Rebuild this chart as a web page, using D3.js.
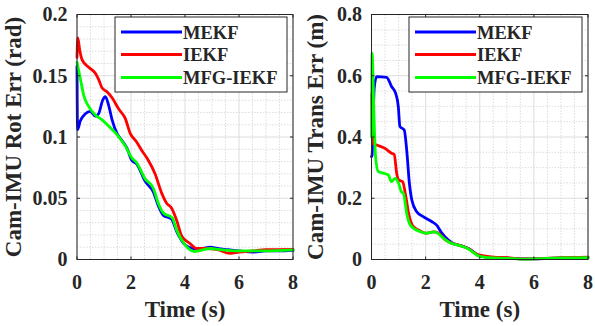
<!DOCTYPE html>
<html><head><meta charset="utf-8">
<script src="https://cdn.jsdelivr.net/npm/d3@7"></script>
<style>
html,body{margin:0;padding:0;background:#fff;}
svg{display:block;}
text{font-family:"Liberation Serif","Times New Roman",serif;font-weight:bold;fill:#262626;}
</style></head>
<body>
<script>
// ---------- data ----------
const seriesNames = ["MEKF", "IEKF", "MFG-IEKF"];
const seriesColors = ["#0000ff", "#ff0000", "#00ff00"];
const xTicks = [0, 2, 4, 6, 8];
const rotTicks = [0, 0.05, 0.1, 0.15, 0.2];
const rotTickLabels = ["0", "0.05", "0.1", "0.15", "0.2"];
const transTicks = [0, 0.2, 0.4, 0.6, 0.8];
const transTickLabels = ["0", "0.2", "0.4", "0.6", "0.8"];

// Rotation error (rad)
const mekfRotT = [0,0.02,0.12,0.31,0.49,0.68,0.8,0.95,1.05,1.17,1.3,1.48,1.67,1.85,2.03,2.21,2.52,2.83,3.01,3.2,3.5,3.69,4.0,4.3,4.6,4.93,5.2,5.6,6.0,6.5,7.0,7.5,8.0];
const mekfRot  = [0.158,0.106,0.113,0.119,0.121,0.117,0.119,0.130,0.133,0.126,0.114,0.103,0.097,0.091,0.081,0.078,0.064,0.055,0.044,0.036,0.033,0.023,0.012,0.009,0.009,0.010,0.009,0.008,0.007,0.006,0.007,0.007,0.0075];
const iekfRotT = [0,0.03,0.1,0.19,0.43,0.68,0.8,0.93,1.11,1.3,1.54,1.79,1.97,2.21,2.4,2.64,2.89,3.14,3.32,3.5,3.69,3.88,4.19,4.43,4.8,5.2,5.67,6.0,6.5,7.0,8.0];
const iekfRot  = [0.165,0.181,0.171,0.163,0.157,0.152,0.147,0.140,0.137,0.132,0.123,0.115,0.103,0.096,0.089,0.081,0.070,0.054,0.046,0.042,0.032,0.019,0.013,0.009,0.009,0.008,0.005,0.006,0.007,0.008,0.0083];
const mfgRotT  = [0,0.12,0.25,0.43,0.68,0.93,1.17,1.48,1.78,2.03,2.21,2.52,2.83,3.01,3.2,3.53,3.69,4.0,4.37,4.7,4.93,5.3,6.0,7.0,8.0];
const mfgRot   = [0.161,0.148,0.134,0.125,0.118,0.114,0.109,0.102,0.093,0.083,0.079,0.066,0.058,0.046,0.038,0.034,0.024,0.012,0.0065,0.008,0.009,0.008,0.007,0.007,0.0078];

// Translation error (m)
const mekfTransT = [0,0.02,0.1,0.19,0.56,0.74,0.89,0.99,1.05,1.21,1.3,1.4,1.49,1.67,1.91,2.22,2.4,2.6,2.83,3.0,3.3,3.6,4.0,4.5,5.0,5.5,6.0,7.0,8.0];
const mekfTrans  = [0.336,0.34,0.56,0.597,0.595,0.565,0.543,0.50,0.434,0.423,0.358,0.249,0.194,0.156,0.14,0.124,0.113,0.086,0.064,0.053,0.045,0.035,0.012,0.006,0.005,0.002,0.002,0.005,0.006];
const iekfTransT = [0,0.04,0.19,0.49,0.74,0.84,0.93,1.0,1.15,1.27,1.37,1.5,1.62,1.74,1.99,2.3,2.48,2.73,2.98,3.22,3.55,3.96,4.5,5.0,5.5,6.0,7.0,8.0];
const iekfTrans  = [0.538,0.38,0.374,0.363,0.347,0.343,0.282,0.26,0.254,0.205,0.151,0.113,0.102,0.096,0.086,0.09,0.086,0.064,0.053,0.047,0.037,0.015,0.008,0.006,0.002,0.002,0.006,0.008];
const mfgTransT  = [0,0.02,0.1,0.15,0.25,0.43,0.62,0.74,0.87,1.0,1.1,1.18,1.3,1.4,1.55,1.8,2.0,2.3,2.4,2.67,2.9,3.2,3.55,4.0,4.5,5.0,5.5,6.0,7.0,8.0];
const mfgTrans   = [0.40,0.674,0.445,0.336,0.287,0.282,0.276,0.254,0.265,0.249,0.222,0.216,0.151,0.118,0.102,0.091,0.086,0.09,0.088,0.069,0.055,0.047,0.036,0.01,0.005,0.004,0.001,0.002,0.005,0.006];

// ---------- drawing ----------
const W = 595, H = 326;
const svg = d3.select("body").append("svg").attr("width", W).attr("height", H);

function zip(t, v){ return t.map((x,i)=>({t:x, v:v[i]})); }

function panel(cfg){
  const x = d3.scaleLinear().domain([0,8]).range([cfg.x0, cfg.x1]);
  const y = d3.scaleLinear().domain([0,cfg.ymax]).range([cfg.y1, cfg.y0]);
  const g = svg.append("g");
  // minor grid
  const xMinor = d3.range(0, 8.0001, 0.5).filter(v => Math.abs(v/2 - Math.round(v/2))>1e-6);
  const yMinor = d3.range(0, cfg.ymax+1e-9, cfg.yMinorStep).filter(v => Math.abs(v/cfg.yMajorStep - Math.round(v/cfg.yMajorStep))>1e-6);
  g.selectAll(".xm").data(xMinor).enter().append("line")
    .attr("x1",d=>x(d)).attr("x2",d=>x(d)).attr("y1",cfg.y0).attr("y2",cfg.y1)
    .attr("stroke","#d4d4d4").attr("stroke-width",0.8).attr("stroke-dasharray","1.5,1.5");
  g.selectAll(".ym").data(yMinor).enter().append("line")
    .attr("x1",cfg.x0).attr("x2",cfg.x1).attr("y1",d=>y(d)).attr("y2",d=>y(d))
    .attr("stroke","#d4d4d4").attr("stroke-width",0.8).attr("stroke-dasharray","1.5,1.5");
  // major grid
  g.selectAll(".xM").data(xTicks).enter().append("line")
    .attr("x1",d=>x(d)).attr("x2",d=>x(d)).attr("y1",cfg.y0).attr("y2",cfg.y1)
    .attr("stroke","#dcdcdc").attr("stroke-width",1);
  g.selectAll(".yM").data(cfg.yTicks).enter().append("line")
    .attr("x1",cfg.x0).attr("x2",cfg.x1).attr("y1",d=>y(d)).attr("y2",d=>y(d))
    .attr("stroke","#dcdcdc").attr("stroke-width",1);

  // lines
  const line = d3.line().x(d=>x(d.t)).y(d=>y(d.v)).curve(d3.curveMonotoneX);
  cfg.series.forEach((s,i)=>{
    g.append("path").datum(s).attr("d",line).attr("fill","none")
      .attr("stroke",seriesColors[i]).attr("stroke-width",2.8)
      .attr("stroke-linejoin","round").attr("stroke-linecap","round");
  });

  // axes box
  const axCol = "#262626";
  g.append("rect").attr("x",cfg.x0).attr("y",cfg.y0).attr("width",cfg.x1-cfg.x0).attr("height",cfg.y1-cfg.y0)
    .attr("fill","none").attr("stroke",axCol).attr("stroke-width",1);
  // tick marks (inward, mirrored)
  const tl = 3;
  xTicks.forEach(v=>{
    g.append("line").attr("x1",x(v)).attr("x2",x(v)).attr("y1",cfg.y1).attr("y2",cfg.y1-tl).attr("stroke",axCol);
    g.append("line").attr("x1",x(v)).attr("x2",x(v)).attr("y1",cfg.y0).attr("y2",cfg.y0+tl).attr("stroke",axCol);
  });
  cfg.yTicks.forEach(v=>{
    g.append("line").attr("x1",cfg.x0).attr("x2",cfg.x0+tl).attr("y1",y(v)).attr("y2",y(v)).attr("stroke",axCol);
    g.append("line").attr("x1",cfg.x1).attr("x2",cfg.x1-tl).attr("y1",y(v)).attr("y2",y(v)).attr("stroke",axCol);
  });
  // tick labels
  g.selectAll(".xl").data(xTicks).enter().append("text")
    .attr("x",d=>x(d)).attr("y",cfg.y1+29.5).attr("text-anchor","middle")
    .attr("font-size",20).text(d=>String(d));
  g.selectAll(".yl").data(cfg.yTicks).enter().append("text")
    .attr("x",cfg.x0-9.5).attr("y",d=>y(d)).attr("dy","0.34em").attr("text-anchor","end")
    .attr("font-size",20).text((d,i)=>cfg.yTickLabels[i]);
  // axis labels
  g.append("text").attr("x",(cfg.x0+cfg.x1)/2).attr("y",317).attr("text-anchor","middle")
    .attr("font-size",23).text("Time (s)");
  g.append("text").attr("transform",`translate(${cfg.ylabX},${(cfg.y0+cfg.y1)/2}) rotate(-90)`)
    .attr("text-anchor","middle").attr("font-size",23).text(cfg.ylabel);

  // legend
  const lx = cfg.legX, ly = 17, lw = cfg.x1 - 6 - lx, lh = 75;
  g.append("rect").attr("x",lx).attr("y",ly).attr("width",lw).attr("height",lh)
    .attr("fill","#fff").attr("stroke",axCol).attr("stroke-width",1);
  const rows = [32, 54.5, 77.5];
  seriesNames.forEach((n,i)=>{
    g.append("line").attr("x1",lx+6).attr("x2",lx+67).attr("y1",rows[i]).attr("y2",rows[i])
      .attr("stroke",seriesColors[i]).attr("stroke-width",3);
    g.append("text").attr("x",lx+68).attr("y",rows[i]+6.5).attr("font-size",18.5).text(n);
  });
}

panel({x0:77, x1:293, y0:14.5, y1:259.5, ymax:0.2, yTicks:rotTicks, yTickLabels:rotTickLabels,
  yMajorStep:0.05, yMinorStep:0.01, ylabel:"Cam-IMU Rot Err (rad)", ylabX:20.5, legX:115,
  series:[zip(mekfRotT,mekfRot), zip(iekfRotT,iekfRot), zip(mfgRotT,mfgRot)]});

panel({x0:371.5, x1:588, y0:14.5, y1:259.5, ymax:0.8, yTicks:transTicks, yTickLabels:transTickLabels,
  yMajorStep:0.2, yMinorStep:0.05, ylabel:"Cam-IMU Trans Err (m)", ylabX:323, legX:409,
  series:[zip(mekfTransT,mekfTrans), zip(iekfTransT,iekfTrans), zip(mfgTransT,mfgTrans)]});
</script>
</body></html>
